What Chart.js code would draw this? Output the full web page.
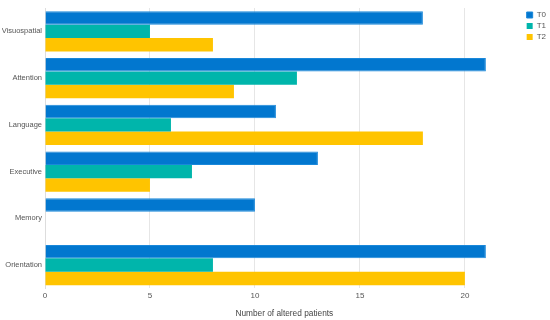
<!DOCTYPE html>
<html>
<head>
<meta charset="utf-8">
<script src="https://cdn.jsdelivr.net/npm/chart.js@4"></script>
<style>
  html, body { margin: 0; padding: 0; background: #fff; }
  #wrap { width: 550px; height: 320px; }
</style>
</head>
<body>
<div id="wrap"><canvas id="chart"></canvas></div>
<script>
// data
const categories = ['Visuospatial', 'Attention', 'Language', 'Executive', 'Memory', 'Orientation'];
const t0 = [18, 21, 11, 13, 10, 21];
const t1 = [5, 12, 6, 7, 0, 8];
const t2 = [8, 9, 18, 5, 0, 20];
const tickValues = [0, 5, 10, 15, 20];

Chart.defaults.font.family = "'Liberation Sans', Arial, sans-serif";
Chart.defaults.color = '#555';

const ctx = document.getElementById('chart').getContext('2d');
const chart = new Chart(ctx, {
  type: 'bar',
  data: {
    labels: categories,
    datasets: [
      { label: 'T0', data: t0, backgroundColor: '#0277cf', borderColor: '#1a88da', borderWidth: 1 },
      { label: 'T1', data: t1, backgroundColor: '#00b5ab' },
      { label: 'T2', data: t2, backgroundColor: '#ffc400' }
    ]
  },
  options: {
    indexAxis: 'y',
    responsive: true,
    maintainAspectRatio: false,
    animation: false,
    layout: { padding: { top: 8, right: -6, left: 2, bottom: 1 } },
    datasets: {
      bar: { categoryPercentage: 0.86, barPercentage: 1.0 }
    },
    plugins: {
      legend: {
        position: 'right',
        align: 'start',
        labels: {
          boxWidth: 6,
          boxHeight: 6,
          padding: 3,
          font: { size: 8 },
          color: '#555'
        }
      },
      tooltip: { enabled: false }
    },
    scales: {
      x: {
        min: 0,
        max: 22.8,
        afterBuildTicks: (axis) => {
          axis.ticks = tickValues.map(v => ({ value: v }));
        },
        grid: { color: '#e6e6e6', drawTicks: false },
        border: { display: false },
        ticks: { font: { size: 8 }, padding: 3, color: '#555' },
        title: {
          display: true,
          text: 'Number of altered patients',
          font: { size: 8.3 },
          color: '#444',
          padding: { top: 5, bottom: 0 }
        }
      },
      y: {
        afterFit: (scale) => { scale.width = 43; },
        grid: { display: false, drawTicks: false, tickLength: 0 },
        border: { display: true, color: '#ddd' },
        ticks: { font: { size: 7.5 }, color: '#555', padding: 3 }
      }
    }
  }
});
</script>
</body>
</html>
